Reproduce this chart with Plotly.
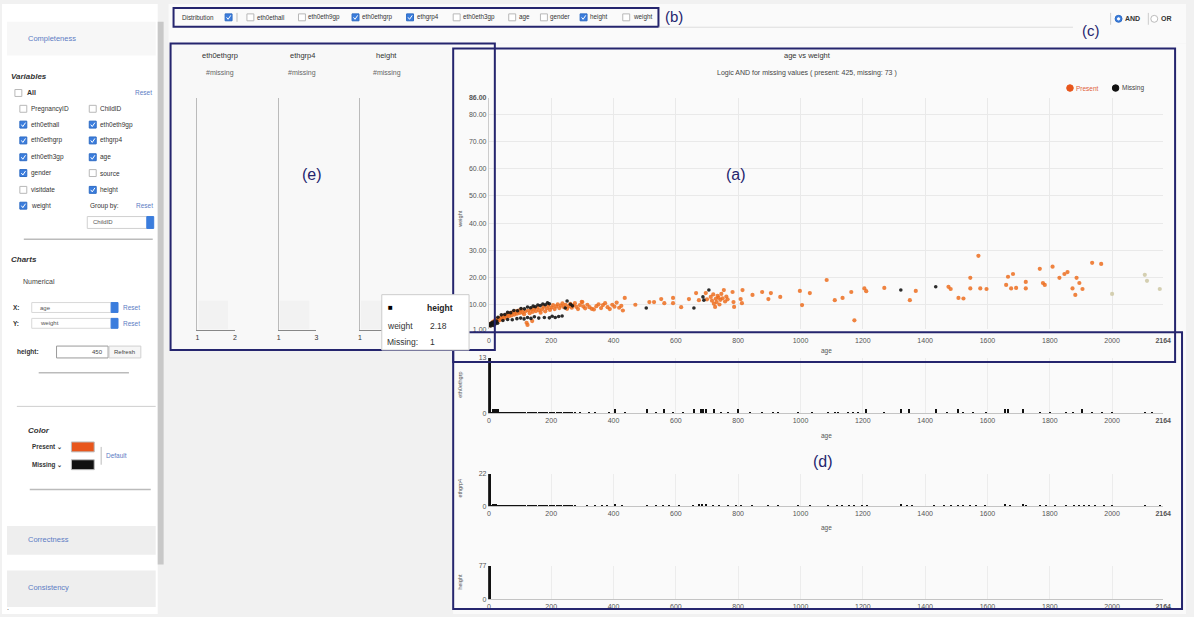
import plotly.graph_objects as go

W, H = 1194, 617
FONT = "Liberation Sans"
NAVY = "#25256e"
LINK = "#5d7cc4"
BLUE = "#3b7ddd"
ORANGE = "#ec6d1f"

# ---------------- data ----------------
present_points = [
    (3, 2.4), (6, 3.1), (9, 2.7), (12, 3.6), (15, 3.0), (18, 4.2), (21, 3.5), (24, 4.6), (27, 3.9),
    (31, 5.0), (34, 4.3), (38, 5.3), (42, 4.7), (45, 5.9), (49, 5.1), (53, 6.2), (57, 5.5), (61, 6.6),
    (65, 5.8), (69, 6.9), (73, 6.1), (77, 7.3), (82, 6.4), (86, 7.6), (90, 6.7), (95, 7.9), (99, 7.0),
    (104, 8.2), (108, 7.2), (113, 6.5), (117, 7.6), (121, 3.4), (124, 2.6), (126, 7.9), (131, 6.9),
    (136, 8.3), (139, 4.0), (141, 7.4), (146, 8.6), (151, 7.7), (156, 9.0), (161, 8.0), (166, 7.1),
    (171, 8.4), (176, 9.3), (181, 7.6), (186, 8.7), (191, 9.6), (196, 8.1), (201, 9.0), (206, 9.9),
    (211, 8.4), (216, 9.4), (221, 10.2), (226, 8.8), (231, 9.7), (236, 10.5), (241, 9.1), (246, 10.0),
    (251, 8.5), (256, 9.4), (261, 10.3), (266, 8.9), (271, 9.8), (276, 10.6), (281, 9.2), (286, 8.4),
    (292, 9.9), (298, 11.1), (300, 11.0), (303, 9.4), (309, 8.7), (316, 10.0), (323, 9.1), (330, 8.5),
    (337, 8.3), (345, 9.5), (352, 10.2), (360, 8.8), (366, 9.9), (373, 10.6), (381, 9.1), (388, 8.4),
    (396, 10.0), (403, 9.3), (410, 10.8), (418, 8.9), (425, 9.6), (430, 7.9), (436, 12.5),
    (470, 10.0), (515, 11.0), (530, 11.0), (553, 12.1), (563, 10.6), (591, 12.5), (591, 10.6),
    (617, 9.1), (642, 12.1), (665, 14.3), (674, 11.7), (696, 14.3), (700, 12.0),
    (712, 12.9), (716, 11.5), (720, 13.8), (722, 10.4), (726, 9.2), (728, 12.2), (731, 11.0),
    (734, 13.3), (737, 12.6), (740, 10.1), (743, 11.8), (746, 14.0), (750, 12.4), (754, 15.4),
    (758, 11.2), (762, 13.0), (766, 12.0),
    (782, 14.7), (785, 11.0), (787, 9.2), (808, 12.1), (812, 10.6), (814, 15.4), (846, 13.6),
    (877, 14.7), (897, 12.1), (905, 14.3), (935, 12.9), (998, 15.1), (1005, 9.9), (1030, 14.3),
    (1084, 19.1), (1110, 11.7), (1135, 12.5), (1163, 14.7), (1173, 4.3), (1205, 16.0), (1211, 15.0),
    (1269, 16.2), (1351, 11.7), (1370, 15.1), (1475, 16.6), (1482, 15.8), (1507, 12.5), (1523, 12.3),
    (1545, 19.9), (1545, 16.0), (1571, 28.0), (1577, 16.0), (1597, 15.8), (1660, 17.3), (1666, 20.3),
    (1676, 16.0), (1682, 21.3), (1692, 16.2), (1723, 18.4), (1723, 16.0), (1768, 23.2), (1778, 18.0),
    (1784, 17.3), (1809, 24.0), (1831, 19.9), (1847, 21.3), (1857, 22.0), (1873, 16.0), (1882, 13.6),
    (1886, 19.9), (1895, 18.0), (1905, 15.8), (1936, 25.4), (1965, 25.0),
]
present_age = [p[0] for p in present_points]
present_weight = [p[1] for p in present_points]

faded_age = [2000, 2105, 2112, 2153]
faded_weight = [14.0, 21.0, 18.8, 15.8]

missing_age = [2, 4, 6, 8, 10, 12, 14, 16, 18, 20, 22, 25, 28,
               29, 40, 51, 60, 70, 80, 92, 103, 114, 124, 134, 142, 149, 157, 165, 173, 181, 188, 194,
               102, 113, 124, 135, 146, 160, 178, 194, 203, 213, 224, 235,
               45, 60, 75, 90,
               245, 251, 262, 268, 505, 658, 687, 690, 706, 1322, 1434]
missing_weight = [2.5, 3.0, 2.2, 3.3, 2.8, 3.6, 2.4, 3.1, 3.8, 2.9, 3.4, 4.0, 3.2,
                  5.4, 6.3, 6.4, 7.2, 7.1, 7.9, 7.8, 8.6, 8.5, 9.2, 8.9, 9.5, 9.3, 9.9, 9.7, 10.3, 10.0, 10.7, 10.4,
                  5.1, 4.8, 5.3, 5.0, 5.6, 5.1, 5.3, 5.2, 5.8, 5.3, 5.7, 5.9,
                  4.2, 4.6, 4.5, 4.9,
                  8.8, 11.4, 10.2, 9.6, 8.8, 8.8, 12.9, 11.7, 15.4, 15.4, 16.6]

dense_ages = [10, 14, 18, 22, 26, 30, 35, 40, 46, 52, 58, 64, 70, 77, 84, 90, 97, 104, 110, 117,
              124, 131, 138, 145, 152, 160, 167, 174, 181, 188, 195, 203, 210, 218, 225, 232, 240,
              247, 254, 261, 268, 275]

# eth0ethgrp: short stubs (~0.35 on the 0-13 scale) and taller bars (~1)
hist1_age = [3] + dense_ages + [293, 321, 340, 385, 404, 436, 506, 537, 563, 591, 623, 658, 680, 688, 696,
             722, 744, 766, 801, 839, 877, 913, 928, 992, 1036, 1087, 1110, 1119, 1151, 1167, 1183, 1211,
             1269, 1323, 1348, 1434, 1469, 1507, 1523, 1555, 1596, 1657, 1666, 1714, 1768, 1800, 1851,
             1873, 1905, 1936, 1968, 2000, 2105, 2127]
hist1_taller = [14, 18, 22, 26, 30, 404, 506, 563, 658, 680, 688, 696, 722, 801, 1211, 1323, 1348,
                1434, 1507, 1657, 1666, 1714, 1905]
hist1_count = [13] + [1 if a in hist1_taller else 0.35 for a in hist1_age[1:]]

hist2_age = [3] + dense_ages + [315, 340, 362, 378, 404, 426, 506, 537, 560, 579, 611, 655, 674, 685, 696,
             718, 738, 766, 792, 808, 846, 897, 928, 992, 1030, 1087, 1116, 1132, 1157, 1173, 1199, 1215,
             1323, 1342, 1358, 1428, 1459, 1482, 1507, 1523, 1545, 1564, 1593, 1657, 1672, 1714, 1723,
             1768, 1787, 1816, 1851, 1879, 1895, 1911, 1927, 1946, 1975, 2000, 2105, 2153]
hist2_taller = [14, 18, 22, 404, 674, 685, 696, 1323, 1657, 1714]
hist2_count = [22] + [2 if a in hist2_taller else 1 for a in hist2_age[1:]]

hist3_age = [3] + dense_ages + [340, 404, 506, 560, 611, 674, 696, 738, 792, 846, 928, 1030, 1116, 1173,
             1215, 1323, 1358, 1459, 1507, 1545, 1593, 1672, 1723, 1787, 1851, 1895, 1927, 1975, 2105]
hist3_count = [77] + [1 for a in hist3_age[1:]]

x_ticks = [0, 200, 400, 600, 800, 1000, 1200, 1400, 1600, 1800, 2000, 2164]
x_ticktext = ["0", "200", "400", "600", "800", "1000", "1200", "1400", "1600", "1800", "2000", "<b>2164</b>"]
y_ticks = [1, 10, 20, 30, 40, 50, 60, 70, 80, 86]
y_ticktext = ["1.00", "10.00", "20.00", "30.00", "40.00", "50.00", "60.00", "70.00", "80.00", "<b>86.00</b>"]

# ---------------- helpers ----------------
def X(px):
    return px / W

def Y(py):
    return 1 - py / H

annotations = []
shapes = []

def txt(x, y, s, size=7.5, color="#333", anchor="left", family=FONT, angle=0):
    annotations.append(dict(x=X(x), y=Y(y), xref="paper", yref="paper", text=s, showarrow=False,
                            xanchor=anchor, yanchor="middle", textangle=angle, borderpad=0,
                            font=dict(size=size, color=color, family=family)))

def rect(x0, y0, x1, y1, fill=None, line=None, lw=1, layer="above"):
    shapes.append(dict(type="rect", xref="paper", yref="paper", x0=X(x0), x1=X(x1), y0=Y(y1), y1=Y(y0),
                       fillcolor=fill if fill else "rgba(0,0,0,0)",
                       line=dict(color=line if line else "rgba(0,0,0,0)", width=lw if line else 0),
                       layer=layer))

def hline(x0, x1, y, color="#ccc", lw=1, layer="above"):
    shapes.append(dict(type="line", xref="paper", yref="paper", x0=X(x0), x1=X(x1), y0=Y(y), y1=Y(y),
                       line=dict(color=color, width=lw), layer=layer))

def vline(x, y0, y1, color="#ccc", lw=1, layer="above"):
    shapes.append(dict(type="line", xref="paper", yref="paper", x0=X(x), x1=X(x), y0=Y(y0), y1=Y(y1),
                       line=dict(color=color, width=lw), layer=layer))

def circle(cx, cy, r, fill, line=None):
    shapes.append(dict(type="circle", xref="paper", yref="paper", x0=X(cx - r), x1=X(cx + r),
                       y0=Y(cy + r), y1=Y(cy - r), fillcolor=fill,
                       line=dict(color=line if line else fill, width=1), layer="above"))

def checkbox(x, y, checked):
    if checked:
        rect(x, y - 3.5, x + 7, y + 3.5, fill=BLUE, line="#2f6cc4", lw=1)
        shapes.append(dict(type="path", xref="paper", yref="paper",
                           path=f"M {X(x+1.5)},{Y(y)} L {X(x+3)},{Y(y+2)} L {X(x+5.7)},{Y(y-2)}",
                           line=dict(color="white", width=1), layer="above"))
    else:
        rect(x, y - 3.5, x + 7, y + 3.5, fill="white", line="#b8b8b8", lw=1)

# ---------------- backgrounds ----------------
rect(0, 0, 157, 617, fill="#ffffff", layer="below")
rect(168, 0, 1194, 40, fill="#fafafa", layer="below")
rect(170, 40, 497, 350, fill="#f8f8f8", layer="below")
rect(455, 40, 1194, 617, fill="#fafafa", layer="below")
rect(5, 18, 155, 52, fill="#f7f7f7", layer="below")
rect(5, 528, 155, 557, fill="#eeeeee", layer="below")
rect(5, 573, 155, 610, fill="#eeeeee", layer="below")
rect(157, 18, 163, 567, fill="#c8c8c8", layer="below")
for px in (198, 280, 362):
    rect(px, 300, px + 30, 329, fill="rgba(0,0,0,0.025)", layer="below")

# ---------------- sidebar ----------------
txt(25, 35, "Completeness", 7.5, LINK)
txt(8, 73, "<b><i>Variables</i></b>", 8, "#333")
checkbox(13, 90, False)
txt(24, 90, "<b>All</b>", 7, "#333")
txt(152, 90, "Reset", 6.5, LINK, anchor="right")
rows = [
    (106, ("PregnancyID", False), ("ChildID", False)),
    (122, ("eth0ethall", True), ("eth0eth9gp", True)),
    (138, ("eth0ethgrp", True), ("ethgrp4", True)),
    (155, ("eth0eth3gp", True), ("age", True)),
    (171, ("gender", True), ("source", False)),
    (188, ("visitdate", False), ("height", True)),
]
for ry, c1, c2 in rows:
    checkbox(18, ry, c1[1])
    txt(28, ry, c1[0], 6.5, "#333")
    checkbox(88, ry, c2[1])
    txt(98, ry, c2[0], 6.5, "#333")
checkbox(18, 204, True)
txt(28, 204, "weight", 6.5, "#333")
txt(88, 204, "Group by:", 6.5, "#333")
txt(153, 204, "Reset", 6.5, LINK, anchor="right")
rect(86, 215, 152, 227, fill="white", line="#d0d0d0")
txt(91, 221, "ChildID", 6, "#555")
rect(146, 215, 153, 227, fill=BLUE, line=BLUE)
hline(22, 152, 238, "#bbbbbb", 1.5)
txt(8, 258, "<b><i>Charts</i></b>", 8, "#333")
txt(20, 281, "Numerical", 7, "#444")
txt(10, 307, "<b>X:</b>", 6.5, "#333")
rect(30, 302, 116, 312, fill="white", line="#d8d8d8")
txt(37, 307, "age", 6, "#555")
rect(110, 302, 117, 312, fill=BLUE, line=BLUE)
txt(121, 307, "Reset", 6.5, LINK)
txt(10, 323, "<b>Y:</b>", 6.5, "#333")
rect(30, 318, 116, 328, fill="white", line="#d8d8d8")
txt(37, 323, "weight", 6, "#555")
rect(110, 318, 117, 328, fill=BLUE, line=BLUE)
txt(121, 323, "Reset", 6.5, LINK)
txt(14, 352, "<b>height:</b>", 6.5, "#333")
rect(55, 346, 107, 358, fill="white", line="#9a9a9a")
txt(103, 352, "450", 6, "#444", anchor="right")
rect(108, 346, 140, 358, fill="#f6f6f6", line="#d0d0d0")
txt(124, 352, "Refresh", 6, "#444", anchor="center")
hline(37, 128, 373, "#bbbbbb", 1.5)
hline(15, 155, 407, "#cfcfcf", 1)
txt(25, 431, "<b><i>Color</i></b>", 8, "#333")
txt(29, 448, "<b>Present ⌄</b>", 6.3, "#333")
rect(70, 443, 93, 453, fill="#e8561c", line="#bbbbbb")
txt(29, 466, "<b>Missing ⌄</b>", 6.3, "#333")
rect(70, 461, 93, 471, fill="#111111", line="#bbbbbb")
vline(100, 448, 466, "#bbbbbb")
txt(104, 457, "Default", 6.5, LINK)
hline(28, 150, 491, "#bbbbbb", 1.5)
txt(25, 542, "Correctness", 7.5, LINK)
txt(25, 590, "Consistency", 7.5, LINK)
txt(4, 610, ".", 7, "#333")

# ---------------- top bar (b) ----------------
rect(173, 4, 662, 23, line=NAVY, lw=2)
txt(181, 13.5, "Distribution", 6.3, "#333")
checkbox(225, 13.5, True)
vline(237, 9, 18, "#bbbbbb")
dist_items = [(247, "eth0ethall", False), (299, "eth0eth9gp", False), (353, "eth0ethgrp", True),
              (408, "ethgrp4", True), (455, "eth0eth3gp", False), (511, "age", False),
              (543, "gender", False), (583, "height", True), (626, "weight", False)]
for bx, lab, chk in dist_items:
    checkbox(bx, 13.5, chk)
    txt(bx + 9, 13.5, lab, 6.3, "#333")
txt(668, 13, "(b)", 15, NAVY)
hline(662, 1080, 23.5, "#dddddd")
txt(1088, 27, "(c)", 15, NAVY)
vline(1118, 9, 21, "#cccccc")
circle(1126, 15, 3.5, BLUE, "#2f6cc4")
circle(1126, 15, 1.2, "white")
txt(1131, 15, "<b>AND</b>", 7, "#333")
vline(1156, 9, 21, "#cccccc")
circle(1162, 15, 3.5, "white", "#bbbbbb")
txt(1168, 15, "<b>OR</b>", 7, "#333")

# ---------------- panel (e) ----------------
for cx, title in ((220, "eth0ethgrp"), (303, "ethgrp4"), (388, "height")):
    txt(cx, 52, title, 7.5, "#333", anchor="center")
    txt(cx, 70, "#missing", 7, "#666", anchor="center")
txt(313, 172, "(e)", 16, NAVY, anchor="center")

# ---------------- scatter (a) labels ----------------
txt(812, 52, "age vs weight", 7.5, "#333", anchor="center")
txt(812, 70, "Logic AND for missing values ( present: 425, missing: 73 )", 7, "#444", anchor="center")
circle(1077, 85, 3.3, "#e8561c")
txt(1082, 85, "Present", 6.5, "#e0603a")
circle(1123, 85, 3.3, "#111111")
txt(1128, 85, "Missing", 6.5, "#444")
txt(740, 172, "(a)", 16, NAVY, anchor="center")
txt(461, 218, "weight", 5.5, "#555", anchor="center", angle=-90)
txt(831, 351, "age", 6.5, "#555", anchor="center")

# ---------------- histograms (d) labels ----------------
txt(831, 437, "age", 6.5, "#555", anchor="center")
txt(831, 530, "age", 6.5, "#555", anchor="center")
txt(462, 385, "eth0ethgrp", 5.5, "#555", anchor="center", angle=-90)
txt(462, 490, "ethgrp4", 5.5, "#555", anchor="center", angle=-90)
txt(462, 585, "height", 5.5, "#555", anchor="center", angle=-90)
txt(828, 463, "(d)", 16, NAVY, anchor="center")

# ---------------- region boxes ----------------
rect(170, 40, 497, 350, line=NAVY, lw=2)
rect(455, 45, 1183, 362, line=NAVY, lw=2)
rect(455, 332, 1190, 612, line=NAVY, lw=2)

# ---------------- tooltip ----------------
rect(383, 294, 471, 350, fill="white", line="#cccccc")
txt(388, 307, "■", 8, "#000")
txt(428, 307, "<b>height</b>", 8.5, "#222")
txt(387, 326, "weight", 8.5, "#333")
txt(431, 326, "2.18", 8.5, "#333")
txt(387, 342, "Missing:", 8.5, "#333")
txt(431, 342, "1", 8.5, "#333")

# ---------------- traces ----------------
fig = go.Figure()
fig.add_trace(go.Scatter(x=present_age, y=present_weight, mode="markers", xaxis="x", yaxis="y",
                         marker=dict(size=4.2, color=ORANGE, opacity=0.85), showlegend=False))
fig.add_trace(go.Scatter(x=faded_age, y=faded_weight, mode="markers", xaxis="x", yaxis="y",
                         marker=dict(size=4.2, color="#cfcaa8", opacity=0.9), showlegend=False))
fig.add_trace(go.Scatter(x=missing_age, y=missing_weight, mode="markers", xaxis="x", yaxis="y",
                         marker=dict(size=3.6, color="#151515", opacity=0.9), showlegend=False))
hists = ((hist1_age, hist1_count), (hist2_age, hist2_count), (hist3_age, hist3_count))
for i, (ha, hc) in enumerate(hists, start=2):
    widths = [1.5] + [4.0] * (len(ha) - 1)
    fig.add_trace(go.Bar(x=ha, y=hc, width=widths, xaxis=f"x{i}", yaxis=f"y{i}",
                         marker=dict(color="#111111", line=dict(width=0)), showlegend=False))

tickfont = dict(size=7, color="#555", family=FONT)
layout = dict(
    width=W, height=H, margin=dict(l=0, r=0, t=0, b=0),
    paper_bgcolor="#f1f1f1", plot_bgcolor="rgba(0,0,0,0)",
    annotations=annotations, shapes=shapes, showlegend=False, bargap=0,
    font=dict(family=FONT),
)
layout["xaxis"] = dict(domain=[X(491), X(1171)], range=[0, 2164], anchor="y", tickvals=x_ticks,
                       ticktext=x_ticktext, tickfont=tickfont, showgrid=True, gridcolor="#e9e9e9",
                       zeroline=False, showline=False, ticks="", ticklabelstandoff=6)
layout["yaxis"] = dict(domain=[Y(329), Y(95)], range=[1, 86], anchor="x", tickvals=y_ticks,
                       ticktext=y_ticktext, tickfont=tickfont, showgrid=True, gridcolor="#e9e9e9",
                       zeroline=False, showline=True, linecolor="#cccccc", ticks="")
hist_domains = [(414, 358, 13), (508, 475, 22), (602, 568, 77)]
for i, (yb, yt, mx) in enumerate(hist_domains, start=2):
    layout[f"xaxis{i}"] = dict(domain=[X(491), X(1171)], range=[0, 2164], anchor=f"y{i}", tickvals=x_ticks,
                               ticktext=x_ticktext, tickfont=tickfont, showgrid=True, gridcolor="#ececec",
                               zeroline=False, showline=True, linecolor="#c4c4c4", ticks="")
    layout[f"yaxis{i}"] = dict(domain=[Y(yb), Y(yt)], range=[0, mx], anchor=f"x{i}", tickvals=[0, mx],
                               tickfont=tickfont, showgrid=False, zeroline=False, showline=True,
                               linecolor="#333333", ticks="")
panel_x = [(197, 235, 2, [1, 2]), (279, 317, 3, [1, 3]), (361, 399, 2, [1])]
for j, (x0, x1, mx, tv) in enumerate(panel_x, start=5):
    layout[f"xaxis{j}"] = dict(domain=[X(x0), X(x1)], range=[1, mx], anchor=f"y{j}", tickvals=tv,
                               tickfont=dict(size=7, color="#333", family=FONT), showgrid=False,
                               zeroline=False, showline=True, linecolor="#888888", ticks="")
    layout[f"yaxis{j}"] = dict(domain=[Y(330), Y(95)], range=[0, 1], anchor=f"x{j}", showticklabels=False,
                               showgrid=False, zeroline=False, showline=True, linecolor="#bbbbbb", ticks="")
for j in (5, 6, 7):
    fig.add_trace(go.Scatter(x=[1], y=[0], mode="markers", marker=dict(size=1, opacity=0),
                             xaxis=f"x{j}", yaxis=f"y{j}", showlegend=False, hoverinfo="skip"))

fig.update_layout(**layout)
fig.write_html("out.html", config={"displayModeBar": False},
               post_script="document.body.style.margin='0';document.body.style.padding='0';"
                           "document.documentElement.style.overflow='hidden';"
                           "document.body.style.overflow='hidden';")
